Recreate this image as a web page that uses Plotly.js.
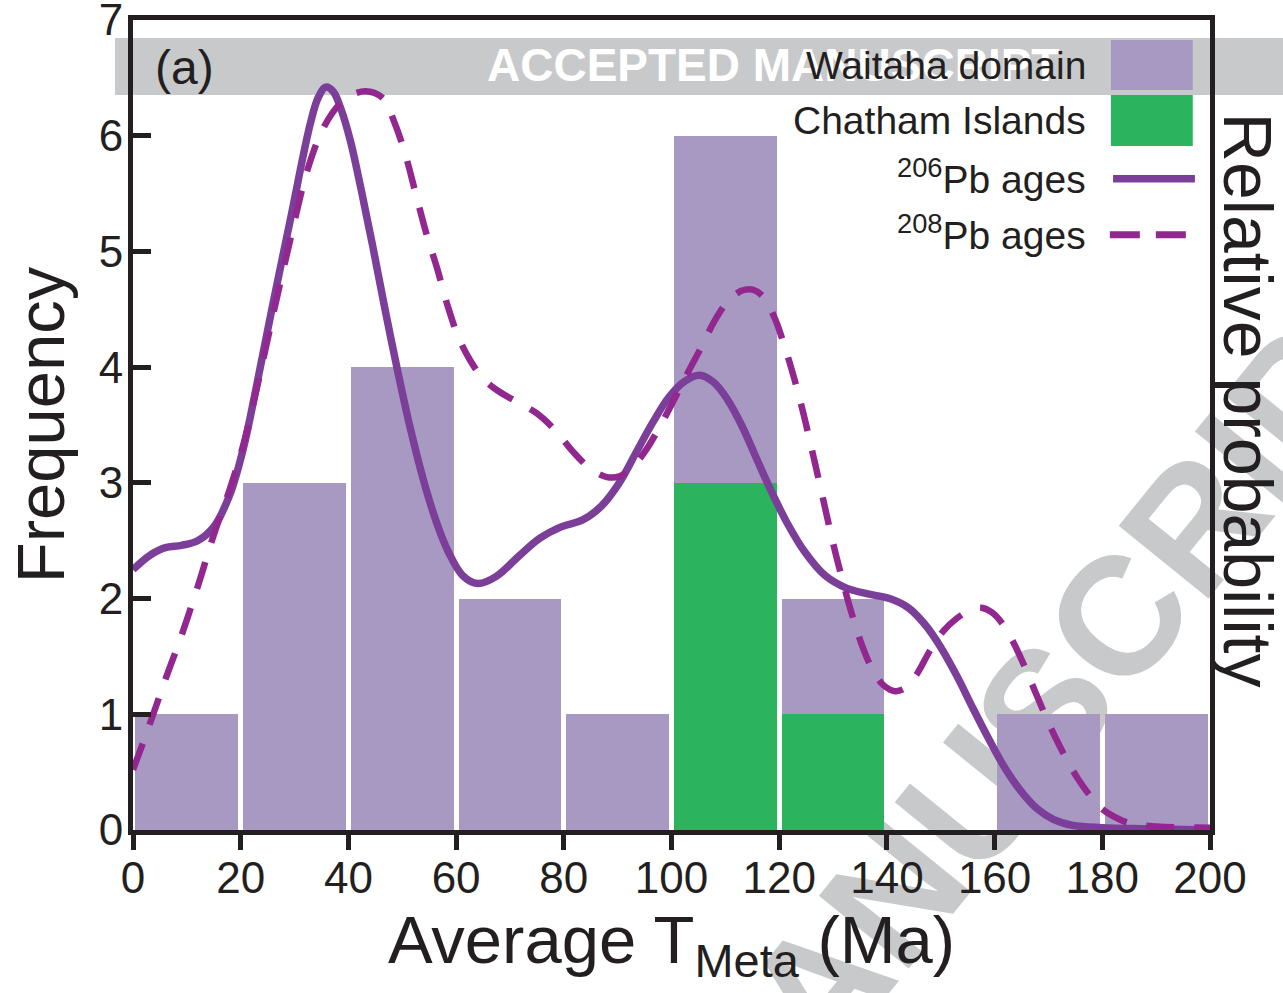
<!DOCTYPE html>
<html>
<head>
<meta charset="utf-8">
<script src="https://cdn.plot.ly/plotly-3.0.1.min.js"></script>
<style>
html,body{margin:0;padding:0;background:#fff;}
#wrap{position:relative;width:1283px;height:993px;overflow:hidden;}
#back,#chart{position:absolute;left:0;top:0;width:1283px;height:993px;}
</style>
</head>
<body>
<div id="wrap"><div id="back"></div><div id="chart"></div></div>
<script>
// ---- data ----
const binStarts = [0, 20, 40, 60, 80, 100, 120, 140, 160, 180];
const binWidth = 20;
const waitahaCounts = [1, 3, 4, 2, 1, 3, 1, 0, 1, 1];
const chathamCounts = [0, 0, 0, 0, 0, 3, 1, 0, 0, 0];

const pb206Age = [0, 3, 6, 9, 12, 15, 18, 20.5, 23, 26, 29.2, 32.9, 34.4, 35.8, 37.2, 38.7, 40.4, 42.3, 44.5, 46.8, 49.0, 51.5, 54.2, 56.5, 58.6, 61.2, 64.0, 67.4, 71.5, 75.5, 79.5, 83.5, 87.0, 90.3, 93.4, 96.5, 99.5, 102.5, 105.2, 107.8, 110.4, 113.0, 115.6, 118.3, 121.4, 124.8, 128.5, 132.5, 136.5, 140.5, 144.0, 147.0, 150.0, 153.0, 156.0, 159.0, 162.0, 165.0, 168.0, 171.0, 174.5, 180, 188, 200];
const pb206Prob = [2.25, 2.37, 2.44, 2.46, 2.5, 2.62, 2.9, 3.3, 3.85, 4.55, 5.27, 6.1, 6.33, 6.42, 6.38, 6.22, 5.95, 5.55, 5.05, 4.5, 4.0, 3.47, 2.98, 2.64, 2.4, 2.2, 2.13, 2.19, 2.36, 2.52, 2.62, 2.68, 2.8, 3.0, 3.26, 3.52, 3.74, 3.88, 3.93, 3.87, 3.72, 3.5, 3.23, 2.95, 2.66, 2.4, 2.2, 2.09, 2.04, 2.0, 1.92, 1.78, 1.58, 1.33, 1.05, 0.78, 0.53, 0.33, 0.18, 0.09, 0.04, 0.02, 0.01, 0.0];

const pb208Age = [0, 3, 6, 9, 12, 15, 18, 20.5, 23, 26, 29.2, 32.5, 35.5, 38.5, 41.5, 44.0, 46.5, 48.5, 50.5, 52.5, 54.5, 56.5, 58.5, 60.5, 62.6, 65.0, 67.6, 71.3, 75.0, 78.7, 81.7, 85.0, 88.0, 90.5, 93.0, 95.5, 98.0, 100.5, 103.0, 105.5, 108.0, 110.5, 113.0, 115.1, 117.2, 119.2, 121.0, 122.8, 124.6, 126.4, 128.2, 130.0, 131.8, 133.6, 135.5, 137.4, 139.4, 141.5, 143.5, 145.6, 148.0, 150.5, 153.0, 155.5, 157.5, 159.5, 161.5, 163.5, 165.5, 167.5, 169.5, 171.5, 173.5, 175.5, 177.5, 179.5, 182.0, 185.0, 190.0, 200];
const pb208Prob = [0.52, 0.9, 1.3, 1.68, 2.1, 2.55, 2.95, 3.33, 3.82, 4.45, 5.1, 5.72, 6.08, 6.28, 6.37, 6.38, 6.32, 6.12, 5.85, 5.5, 5.15, 4.85, 4.52, 4.25, 4.06, 3.9, 3.8, 3.7, 3.6, 3.44, 3.27, 3.12, 3.05, 3.06, 3.15, 3.3, 3.5, 3.72, 3.95, 4.17, 4.4, 4.57, 4.66, 4.67, 4.6, 4.42, 4.18, 3.9, 3.58, 3.22, 2.85, 2.48, 2.15, 1.85, 1.58, 1.38, 1.25, 1.2, 1.23, 1.35, 1.55, 1.72, 1.83, 1.9, 1.92, 1.88, 1.78, 1.62, 1.42, 1.2, 0.98, 0.78, 0.6, 0.44, 0.31, 0.2, 0.12, 0.06, 0.03, 0.02];

const xTickVals = [0, 20, 40, 60, 80, 100, 120, 140, 160, 180, 200];
const yTickVals = [0, 1, 2, 3, 4, 5, 6, 7];
const legendLabels = ['Waitaha domain', 'Chatham Islands', '<sup>206</sup>Pb ages', '<sup>208</sup>Pb ages'];
const watermarkText = 'ACCEPTED MANUSCRIPT';

// ---- styles ----
const INK = '#231f20';
const WAITAHA = '#a899c2';
const CHATHAM = '#2bb35e';
const SOLID = '#7b3f99';
const DASHED = '#92278f';
const WM_GRAY = '#c8c9cb';
const FONT = 'Liberation Sans, Arial, Helvetica, sans-serif';
const MARGIN = {l: 133, r: 73, t: 20, b: 163, pad: 0};

const binCenters = binStarts.map(s => s + binWidth / 2);

// ---- background layer: manuscript watermark (behind the chart) ----
Plotly.newPlot('back', [], {
  width: 1283, height: 993, margin: MARGIN,
  paper_bgcolor: '#ffffff', plot_bgcolor: '#ffffff',
  xaxis: {visible: false, range: [0, 1]}, yaxis: {visible: false, range: [0, 1]},
  shapes: [
    {type: 'rect', xref: 'paper', yref: 'paper', x0: -0.0167, x1: 1.07, y0: 0.9074, y1: 0.9778, fillcolor: WM_GRAY, line: {width: 0}}
  ],
  annotations: [
    {text: '<b>' + watermarkText + '</b>', xref: 'paper', yref: 'paper', x: 0.327, y: 0.944, xanchor: 'left', yanchor: 'middle', showarrow: false, font: {family: FONT, size: 46, color: '#ffffff'}},
    {text: '<b>' + watermarkText + '</b>', xref: 'paper', yref: 'paper', x: 0.5627, y: -0.316, xanchor: 'center', yanchor: 'middle', textangle: -51, showarrow: false, font: {family: FONT, size: 168, color: WM_GRAY}}
  ]
}, {staticPlot: true, displayModeBar: false});

// ---- chart ----
const traces = [
  {type: 'bar', x: binCenters, y: chathamCounts, marker: {color: CHATHAM}, name: 'Chatham Islands', hoverinfo: 'skip'},
  {type: 'bar', x: binCenters, y: waitahaCounts, marker: {color: WAITAHA}, name: 'Waitaha domain', hoverinfo: 'skip'},
  {type: 'scatter', mode: 'lines', x: pb206Age, y: pb206Prob, yaxis: 'y2', line: {color: SOLID, width: 7.5, shape: 'spline', smoothing: 1}, hoverinfo: 'skip'},
  {type: 'scatter', mode: 'lines', x: pb208Age, y: pb208Prob, yaxis: 'y2', line: {color: DASHED, width: 6.5, shape: 'spline', smoothing: 1, dash: '28px,20px'}, hoverinfo: 'skip'}
];

const legY = [0.944, 0.8765, 0.807, 0.738];
const shapes = [
  {type: 'rect', xref: 'paper', yref: 'paper', x0: 0.908, x1: 0.984, y0: 0.9136, y1: 0.9753, fillcolor: WAITAHA, line: {width: 0}},
  {type: 'rect', xref: 'paper', yref: 'paper', x0: 0.908, x1: 0.984, y0: 0.8444, y1: 0.9074, fillcolor: CHATHAM, line: {width: 0}},
  {type: 'line', xref: 'paper', yref: 'paper', x0: 0.910, x1: 0.986, y0: legY[2] - 0.003, y1: legY[2] - 0.003, line: {color: SOLID, width: 7.5}},
  {type: 'line', xref: 'paper', yref: 'paper', x0: 0.907, x1: 0.989, y0: legY[3] - 0.003, y1: legY[3] - 0.003, line: {color: DASHED, width: 7, dash: '30px,16px'}}
];

const annotations = [
  {text: '(a)', xref: 'paper', yref: 'paper', x: 0.019, y: 0.941, xanchor: 'left', yanchor: 'middle', showarrow: false, font: {family: FONT, size: 48, color: INK}},
  {text: 'Relative probability', xref: 'paper', yref: 'paper', x: 1.0353, y: 0.531, xanchor: 'center', yanchor: 'middle', textangle: 90, showarrow: false, font: {family: FONT, size: 68, color: INK}}
];
legendLabels.forEach((t, i) => {
  annotations.push({text: t, xref: 'paper', yref: 'paper', x: 0.8867, y: legY[i], xanchor: 'right', yanchor: 'middle', showarrow: false, font: {family: FONT, size: 39, color: INK}});
});

const layout = {
  width: 1283, height: 993,
  margin: MARGIN,
  paper_bgcolor: 'rgba(0,0,0,0)', plot_bgcolor: 'rgba(0,0,0,0)',
  font: {family: FONT, color: INK},
  showlegend: false,
  hovermode: false,
  barmode: 'stack',
  bargap: 0.045,
  xaxis: {
    range: [0, 200], tickvals: xTickVals, ticks: 'outside', ticklen: 15, tickwidth: 5, tickcolor: INK,
    ticklabelstandoff: -10, ticklabeloverflow: 'allow',
    showline: true, linewidth: 5, linecolor: INK, mirror: true, showgrid: false, zeroline: false,
    tickfont: {family: FONT, size: 44, color: INK},
    title: {text: 'Average T<sub>Meta</sub> (Ma)', font: {family: FONT, size: 67, color: INK}, standoff: 14}
  },
  yaxis: {
    range: [0, 7], tickvals: yTickVals, ticks: 'inside', ticklen: 18, tickwidth: 5, tickcolor: INK,
    ticklabelstandoff: -4, ticklabeloverflow: 'allow',
    showline: true, linewidth: 5, linecolor: INK, mirror: true, showgrid: false, zeroline: false,
    tickfont: {family: FONT, size: 44, color: INK},
    title: {text: 'Frequency', font: {family: FONT, size: 67, color: INK}, standoff: 14}
  },
  yaxis2: {
    overlaying: 'y', side: 'right', range: [0, 7], showticklabels: false, ticks: '', showgrid: false, zeroline: false, showline: false
  },
  shapes: shapes,
  annotations: annotations
};

Plotly.newPlot('chart', traces, layout, {staticPlot: true, displayModeBar: false});
</script>
</body>
</html>
